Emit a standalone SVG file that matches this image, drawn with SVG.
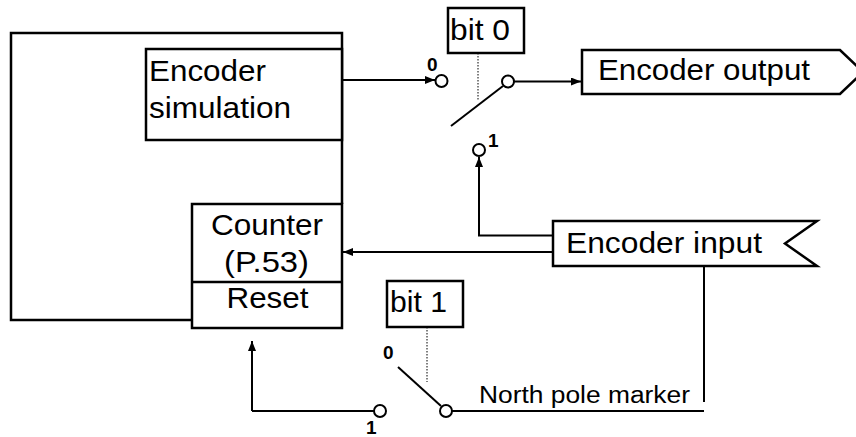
<svg xmlns="http://www.w3.org/2000/svg" width="856" height="437" viewBox="0 0 856 437">
<style>
.box{fill:#fff;stroke:#000;stroke-width:2.5}
.ln{fill:none;stroke:#000;stroke-width:2}
.dot{fill:none;stroke:#000;stroke-width:1;stroke-dasharray:1.5,1.5}
.term{fill:#fff;stroke:#000;stroke-width:2}
.t{font-family:"Liberation Sans",Arial,sans-serif;font-size:30px;fill:#000}
.s{font-family:"Liberation Sans",Arial,sans-serif;font-size:23px;fill:#000}
.d{font-family:"Liberation Sans",Arial,sans-serif;font-size:19px;font-weight:bold;fill:#000}
</style>
<defs>
<marker id="arr" viewBox="0 0 10 8" refX="10" refY="4" markerWidth="10" markerHeight="8" markerUnits="userSpaceOnUse" orient="auto">
<path d="M0,0 L10,4 L0,8 z" fill="#000"/>
</marker>
</defs>
<rect width="856" height="437" fill="#fff"/>
<g id="connectors">
<polyline class="box" style="fill:none" points="192,320 11,320 11,33 342,33 342,204"/>
<line class="ln" x1="342" y1="80" x2="435" y2="80" marker-end="url(#arr)"/>
<line class="ln" x1="514" y1="81.5" x2="581" y2="81.5" marker-end="url(#arr)"/>
<line class="ln" x1="451" y1="126" x2="503" y2="86"/>
<line class="dot" x1="478" y1="53" x2="478" y2="101"/>
<polyline class="ln" points="553,235.5 479,235.5 479,157" marker-end="url(#arr)"/>
<line class="ln" x1="553" y1="252" x2="343" y2="252" marker-end="url(#arr)"/>
<line class="ln" x1="704" y1="266" x2="704" y2="402"/>
<line class="ln" x1="452" y1="411" x2="704" y2="411"/>
<line class="ln" x1="398" y1="367" x2="441" y2="406"/>
<line class="dot" x1="427" y1="327" x2="427" y2="382"/>
<line class="ln" x1="252" y1="411" x2="374" y2="411"/>
<line class="ln" x1="252" y1="411" x2="252" y2="341" marker-end="url(#arr)"/>
<circle class="term" cx="441.5" cy="81" r="6"/>
<circle class="term" cx="508" cy="81.5" r="6"/>
<circle class="term" cx="479" cy="150" r="6"/>
<circle class="term" cx="380" cy="411" r="6"/>
<circle class="term" cx="446" cy="411" r="6"/>
<text class="d" x="427" y="71">0</text>
<text class="d" x="488" y="147">1</text>
<text class="d" x="383" y="359">0</text>
<text class="d" x="366" y="434">1</text>
<text class="s" x="479" y="403" textLength="211" lengthAdjust="spacingAndGlyphs">North pole marker</text>
</g>
<g id="encoder-simulation">
<rect class="box" x="146" y="49" width="196" height="91"/>
<text class="t" x="149" y="81" textLength="117" lengthAdjust="spacingAndGlyphs">Encoder</text>
<text class="t" x="149" y="118" textLength="142" lengthAdjust="spacingAndGlyphs">simulation</text>
</g>
<g id="counter">
<rect class="box" x="192" y="204" width="150" height="124"/>
<line class="box" x1="192" y1="282" x2="342" y2="282"/>
<text class="t" x="211" y="235" textLength="112" lengthAdjust="spacingAndGlyphs">Counter</text>
<text class="t" x="224" y="271.5" textLength="85" lengthAdjust="spacingAndGlyphs">(P.53)</text>
<text class="t" x="226.5" y="308" textLength="82" lengthAdjust="spacingAndGlyphs">Reset</text>
</g>
<g id="bit0">
<rect class="box" x="448" y="8" width="76" height="45"/>
<text class="t" x="450" y="40" textLength="60" lengthAdjust="spacingAndGlyphs">bit 0</text>
</g>
<g id="bit1">
<rect class="box" x="387" y="281" width="76" height="46"/>
<text class="t" x="390" y="311.5" textLength="57" lengthAdjust="spacingAndGlyphs">bit 1</text>
</g>
<g id="encoder-output">
<polygon class="box" points="582,50 840,50 863,72 840,94 582,94"/>
<text class="t" x="598" y="79.5" textLength="212" lengthAdjust="spacingAndGlyphs">Encoder output</text>
</g>
<g id="encoder-input">
<polygon class="box" points="553,221 817,221 785,243.5 817,266 553,266"/>
<text class="t" x="566" y="253" textLength="196" lengthAdjust="spacingAndGlyphs">Encoder input</text>
</g>
</svg>
